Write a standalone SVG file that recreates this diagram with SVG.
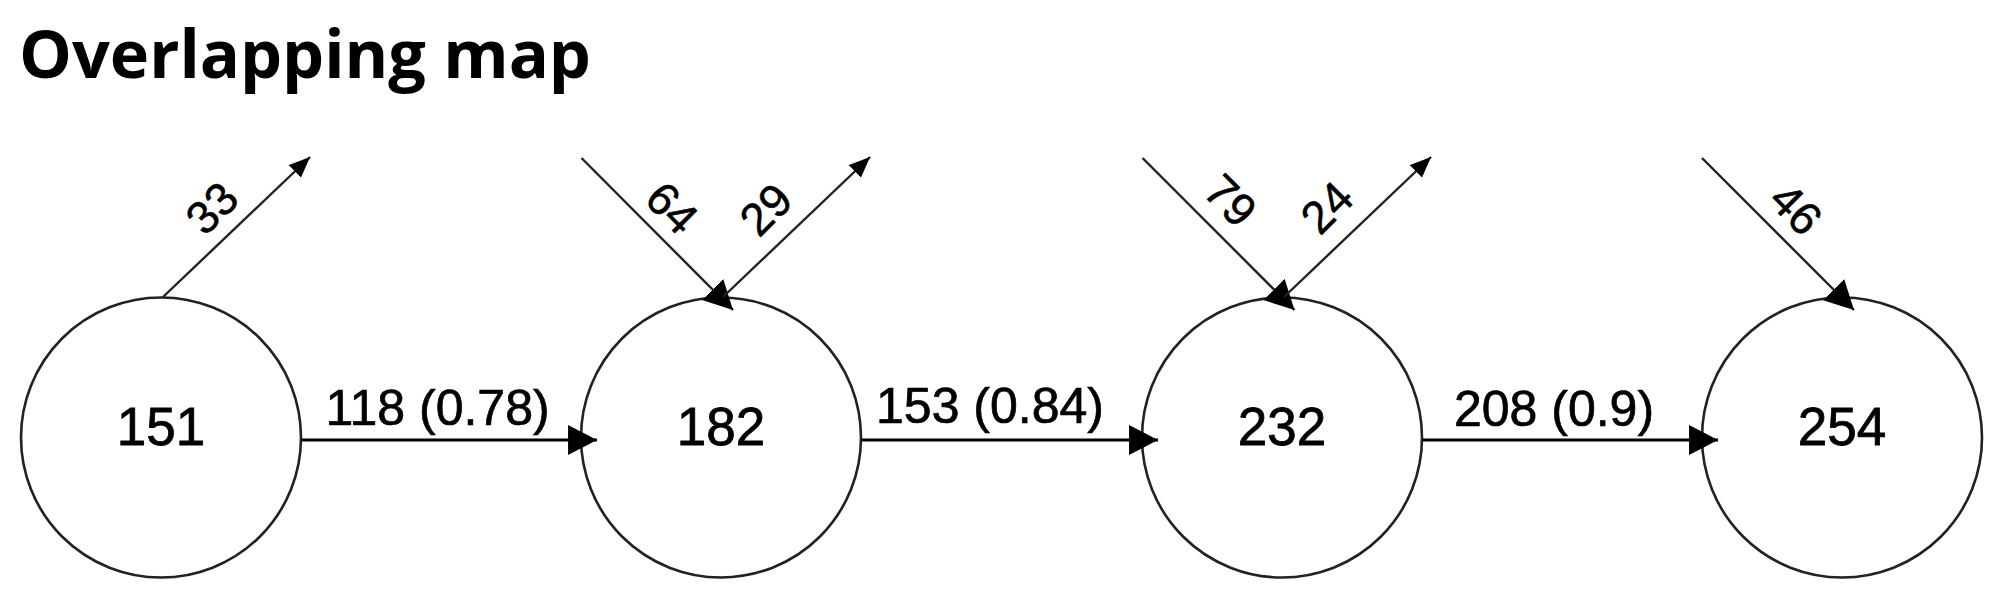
<svg xmlns="http://www.w3.org/2000/svg" width="2000" height="601" viewBox="0 0 2000 601">
<defs>
<style>
.title{font-family:"Open Sans","Noto Sans",sans-serif;font-weight:700;font-size:67px;fill:#000}
.node circle{fill:#fff;stroke:#222;stroke-width:2.6}
.node text{font-family:"Liberation Sans",Arial,sans-serif;font-size:53px;fill:#000;stroke:#000;stroke-width:0.8;text-anchor:middle}
.main{stroke:#000;stroke-width:3.2;fill:none}
.side{stroke:#222;stroke-width:2.4;fill:none}
.elab{font-family:"Liberation Sans",Arial,sans-serif;font-size:50px;fill:#000;stroke:#000;stroke-width:0.7;text-anchor:middle}
.dlab{font-family:"Liberation Sans",Arial,sans-serif;font-size:46px;fill:#000;stroke:#000;stroke-width:0.5;text-anchor:middle}
</style>
<marker id="big" markerUnits="userSpaceOnUse" markerWidth="30" markerHeight="30" viewBox="0 0 28 28" refX="27" refY="14" orient="auto">
<path d="M0,0 L27,14 L0,28 z" fill="#000"/>
</marker>
<marker id="small" markerUnits="userSpaceOnUse" markerWidth="22" markerHeight="18" viewBox="0 0 20 16" refX="19" refY="8" orient="auto">
<path d="M0,0 L19,8 L0,16 z" fill="#000"/>
</marker>
</defs>
<rect width="2000" height="601" fill="#fff"/>
<text class="title" x="19" y="78" textLength="572" lengthAdjust="spacingAndGlyphs">Overlapping map</text>

<g id="nodes">
<g id="n151" class="node"><circle cx="161" cy="437.5" r="140"/><text x="161" y="445">151</text></g>
<g id="n182" class="node"><circle cx="721" cy="437.5" r="140"/><text x="721" y="445">182</text></g>
<g id="n232" class="node"><circle cx="1282" cy="437.5" r="140"/><text x="1282" y="445">232</text></g>
<g id="n254" class="node"><circle cx="1842" cy="437.5" r="140"/><text x="1842" y="445">254</text></g>
</g>

<g id="connectors">
<line class="main" x1="301" y1="440" x2="597" y2="440" marker-end="url(#big)"/>
<line class="main" x1="861" y1="440" x2="1158" y2="440" marker-end="url(#big)"/>
<line class="main" x1="1422" y1="440" x2="1718" y2="440" marker-end="url(#big)"/>

<line class="side" x1="163" y1="297" x2="310" y2="157" marker-end="url(#small)"/>
<line class="side" x1="581.5" y1="158" x2="733" y2="310" marker-end="url(#big)"/>
<line class="side" x1="723" y1="297" x2="870" y2="157" marker-end="url(#small)"/>
<line class="side" x1="1142.5" y1="158" x2="1294.5" y2="310" marker-end="url(#big)"/>
<line class="side" x1="1284" y1="297" x2="1431" y2="157" marker-end="url(#small)"/>
<line class="side" x1="1702" y1="158" x2="1854" y2="310" marker-end="url(#big)"/>
</g>

<g id="labels">
<text class="elab" x="437.5" y="425">118 (0.78)</text>
<text class="elab" x="990" y="423">153 (0.84)</text>
<text class="elab" x="1554" y="426">208 (0.9)</text>
<text class="dlab" transform="translate(211.5,207.5) rotate(-45)" dy="0.36em">33</text>
<text class="dlab" transform="translate(672.5,207.5) rotate(45)" dy="0.36em">64</text>
<text class="dlab" transform="translate(765.5,209) rotate(-45)" dy="0.36em">29</text>
<text class="dlab" transform="translate(1231,200) rotate(45)" dy="0.36em">79</text>
<text class="dlab" transform="translate(1326.5,207) rotate(-45)" dy="0.36em">24</text>
<text class="dlab" transform="translate(1796.5,208.5) rotate(45)" dy="0.36em">46</text>
</g>
</svg>
